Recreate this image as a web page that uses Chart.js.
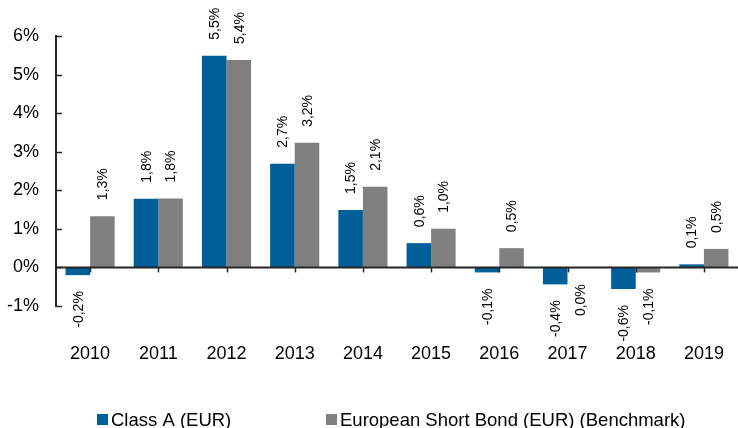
<!DOCTYPE html>
<html>
<head>
<meta charset="utf-8">
<script src="https://cdn.jsdelivr.net/npm/chart.js@4/dist/chart.umd.min.js"></script>
<style>
  html, body { margin: 0; padding: 0; background: #ffffff; }
  #wrap { width: 738px; height: 428px; }
</style>
</head>
<body>
<div id="wrap"><canvas id="c" width="738" height="428"></canvas></div>
<script>
// ---- data ----
const years = ['2010', '2011', '2012', '2013', '2014', '2015', '2016', '2017', '2018', '2019'];
const classA = [-0.20, 1.78, 5.49, 2.69, 1.49, 0.63, -0.13, -0.44, -0.56, 0.08];
const benchmark = [1.33, 1.79, 5.38, 3.23, 2.09, 1.00, 0.50, -0.02, -0.13, 0.48];
const seriesNames = ['Class A (EUR)', 'European Short Bond (EUR) (Benchmark)'];
const yMin = -1, yMax = 6, yStep = 1;

const FONT = '"Liberation Sans", Arial, sans-serif';
const BLUE = '#005F98';
const GREY = '#808080';
const AXIS = '#262626';

function fmt(v) {
  const r = Math.round(v * 10) / 10;
  return r.toFixed(1).replace('.', ',') + '%';
}

const decorations = {
  id: 'decorations',
  afterDatasetsDraw(chart) {
    const ctx = chart.ctx;
    const area = chart.chartArea;
    const xs = chart.scales.x;
    const ys = chart.scales.y;
    const zeroY = ys.getPixelForValue(0);
    ctx.save();
    // zero line
    ctx.strokeStyle = AXIS;
    ctx.lineWidth = 2;
    ctx.beginPath();
    ctx.moveTo(area.left, zeroY);
    ctx.lineTo(area.right, zeroY);
    ctx.stroke();
    // category tick marks below the zero line
    ctx.lineWidth = 1.5;
    xs.ticks.forEach((t, i) => {
      const x = Math.round(xs.getPixelForValue(i)) + 0.5;
      ctx.beginPath();
      ctx.moveTo(x, zeroY);
      ctx.lineTo(x, zeroY + 5);
      ctx.stroke();
    });
    // y-axis inner tick marks
    ys.ticks.forEach(t => {
      const y = Math.round(ys.getPixelForValue(t.value)) + 0.5;
      ctx.beginPath();
      ctx.moveTo(area.left, y);
      ctx.lineTo(area.left + 6, y);
      ctx.stroke();
    });
    // value labels (rotated)
    ctx.fillStyle = '#000';
    ctx.font = '14px ' + FONT;
    ctx.textBaseline = 'middle';
    chart.data.datasets.forEach((ds, di) => {
      const meta = chart.getDatasetMeta(di);
      meta.data.forEach((el, i) => {
        const v = ds.data[i];
        const pos = v >= 0;
        ctx.save();
        ctx.translate(el.x + 1, pos ? el.y - 16 : el.y + 16);
        ctx.rotate(-Math.PI / 2);
        ctx.textAlign = pos ? 'left' : 'right';
        ctx.fillText(fmt(v), 0, 0);
        ctx.restore();
      });
    });
    ctx.restore();
  },
  afterDraw(chart) {
    // legend
    const ctx = chart.ctx;
    const area = chart.chartArea;
    const items = [
      { x: area.left + 41, color: chart.data.datasets[0].backgroundColor, text: chart.data.datasets[0].label },
      { x: area.left + 270, color: chart.data.datasets[1].backgroundColor, text: chart.data.datasets[1].label }
    ];
    ctx.save();
    ctx.font = '18.5px ' + FONT;
    ctx.textBaseline = 'alphabetic';
    ctx.textAlign = 'left';
    items.forEach(it => {
      ctx.fillStyle = it.color;
      ctx.fillRect(it.x, 414, 11, 11);
      ctx.fillStyle = '#000';
      ctx.fillText(it.text, it.x + 14, 425.5);
    });
    ctx.restore();
  }
};

new Chart(document.getElementById('c'), {
  type: 'bar',
  data: {
    labels: years,
    datasets: [
      { label: seriesNames[0], data: classA, backgroundColor: BLUE, categoryPercentage: 0.72, barPercentage: 1.0 },
      { label: seriesNames[1], data: benchmark, backgroundColor: GREY, categoryPercentage: 0.72, barPercentage: 1.0 }
    ]
  },
  options: {
    responsive: false,
    devicePixelRatio: 1,
    animation: false,
    layout: { padding: { top: 36, right: 0, left: 0, bottom: 52 } },
    plugins: {
      legend: { display: false },
      tooltip: { enabled: false }
    },
    scales: {
      x: {
        grid: { display: false, drawTicks: false },
        border: { display: false },
        ticks: { color: '#000', font: { family: FONT, size: 18 }, padding: 37, maxRotation: 0 },
        afterFit(scale) {
          scale.height = 70;
          scale.paddingLeft = 0;
          scale.paddingRight = 0;
        }
      },
      y: {
        min: yMin,
        max: yMax,
        grid: { display: false, drawTicks: false },
        border: { display: true, color: AXIS, width: 2 },
        ticks: {
          stepSize: yStep,
          color: '#000',
          font: { family: FONT, size: 18 },
          padding: 17,
          callback: v => v + '%'
        },
        afterFit(scale) { scale.width = 56; }
      }
    }
  },
  plugins: [decorations]
});
</script>
</body>
</html>
